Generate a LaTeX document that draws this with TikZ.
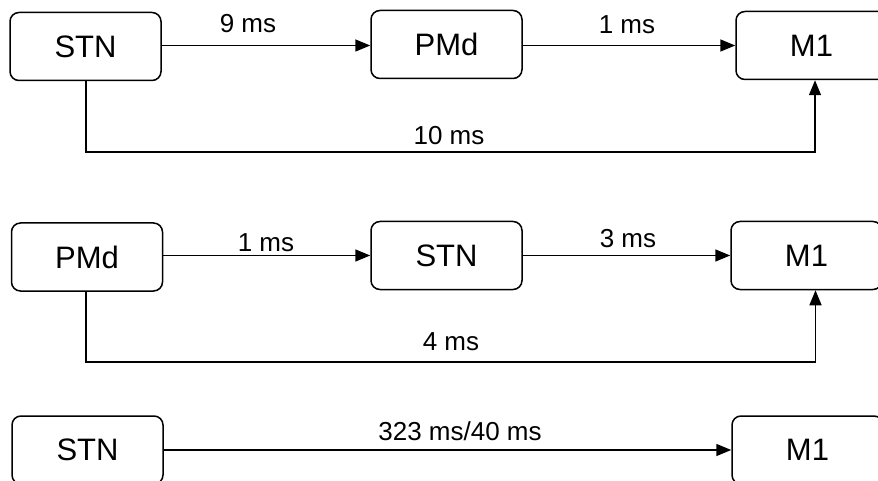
\documentclass[tikz,border=0pt]{standalone}
\usepackage{fontspec}
\setmainfont{Liberation Sans}
\usetikzlibrary{arrows.meta}
\begin{document}
\begin{tikzpicture}[x=1pt,y=1pt,
  box/.style={draw,line width=1.5pt,rounded corners=9pt,minimum width=151pt,minimum height=68pt,inner sep=0pt,font=\fontsize{31}{37}\selectfont},
  lbl/.style={font=\fontsize{26}{31}\selectfont,inner sep=0pt},
  conn/.style={line width=1.5pt,-{Triangle[length=15pt,width=12pt]}}]
\clip (0,0) rectangle (878,-481);
\fill[white] (0,0) rectangle (878,-481);
% row 1
\node[box] (s1) at (85.5,-46.5) {STN};
\node[box] (p1) at (446.5,-44.5) {PMd};
\node[box] (m1) at (811.5,-45.5) {M1};
\coordinate (c1) at (86,-152);
\coordinate (d1) at (815,-152);
\draw[conn] (s1.east |- m1) -- (p1.west |- m1);
\draw[conn] (p1.east |- m1) -- (m1);
\draw[conn] (s1.south -| c1) -- (c1) -- (d1) -- (d1 |- m1.south);
\node[lbl] (l1) at (248,-24) {9 ms};
\node[lbl] (l2) at (627,-25) {1 ms};
\node[lbl] (l3) at (449,-136) {10 ms};
% row 2
\node[box] (p2) at (87,-257) {PMd};
\node[box] (s2) at (446.5,-255.5) {STN};
\node[box] (m2) at (806.5,-255.5) {M1};
\coordinate (c2) at (86,-362);
\coordinate (d2) at (815.5,-362);
\draw[conn] (p2.east |- m2) -- (s2.west |- m2);
\draw[conn] (s2) -- (m2);
\draw[conn] (p2.south -| c2) -- (c2) -- (d2) -- (d2 |- m2.south);
\node[lbl] (l4) at (266,-243) {1 ms};
\node[lbl] (l5) at (628,-239) {3 ms};
\node[lbl] (l6) at (451,-342) {4 ms};
% row 3
\node[box] (s3) at (87.5,-450) {STN};
\node[box] (m3) at (807.5,-450) {M1};
\draw[conn] (s3) -- (m3);
\node[lbl] (l7) at (460,-431) {323 ms/40 ms};
\end{tikzpicture}
\end{document}
